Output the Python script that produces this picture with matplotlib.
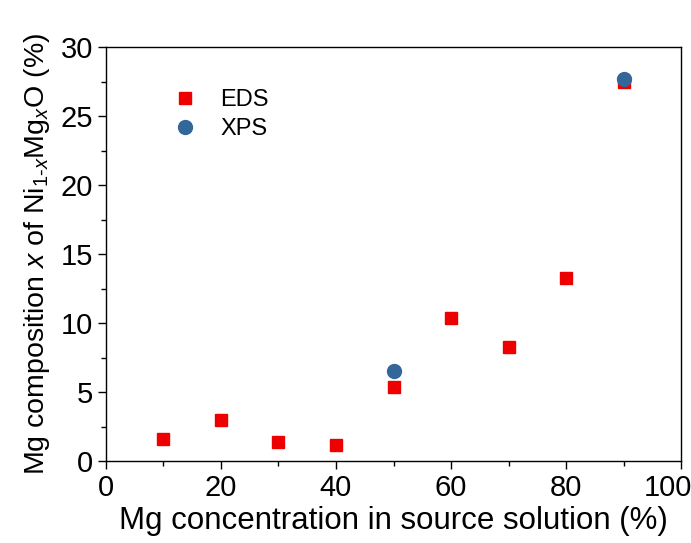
import matplotlib
matplotlib.use("Agg")
import matplotlib.pyplot as plt
import matplotlib.transforms as mtransforms
from matplotlib.ticker import MultipleLocator

plt.rcParams["font.family"] = ["Liberation Sans", "DejaVu Sans"]
plt.rcParams["mathtext.fontset"] = "custom"
plt.rcParams["mathtext.rm"] = "Liberation Sans"
plt.rcParams["mathtext.it"] = "Liberation Sans:italic"

# data
eds_x = [10, 20, 30, 40, 50, 60, 70, 80, 90]
eds_y = [1.6, 3.0, 1.35, 1.15, 5.35, 10.35, 8.3, 13.3, 27.45]
xps_x = [50, 90]
xps_y = [6.5, 27.7]
x_ticks = [0, 20, 40, 60, 80, 100]

fig = plt.figure(figsize=(6.91, 5.43), dpi=100)
ax = fig.add_axes([0.153, 0.151, 0.833, 0.762])

ax.plot(eds_x, eds_y, "s", color="#ee0000", markersize=9, label="EDS", linestyle="none")
ax.plot(xps_x, xps_y, "o", color="#336699", markersize=10, label="XPS", linestyle="none")

ax.set_xlim(0, 100)
ax.set_ylim(0, 30)
ax.set_xticks(x_ticks)
ax.xaxis.set_minor_locator(MultipleLocator(10))
ax.yaxis.set_major_locator(MultipleLocator(5))
ax.yaxis.set_minor_locator(MultipleLocator(2.5))
ax.tick_params(which="both", direction="out", labelsize=21, top=False, right=False)
ax.tick_params(which="major", length=6, width=1, pad=3)
ax.tick_params(which="minor", length=3.5, width=1)
for s in ax.spines.values():
    s.set_linewidth(1)

# nudge "100" left so it stays inside the figure like in the original
last = ax.get_xticklabels()[-1]
last.set_transform(last.get_transform() + mtransforms.ScaledTranslation(-0.13, 0, fig.dpi_scale_trans))

ax.set_xlabel("Mg concentration in source solution (%)", fontsize=22.5, labelpad=3)
ax.set_ylabel(r"Mg composition $\mathit{x}$ of Ni$_{1\text{-}\mathit{x}}$Mg$_{\mathit{x}}$O (%)",
              fontsize=20.5, labelpad=6)

ax.legend(loc="upper left", bbox_to_anchor=(0.06, 0.95), frameon=False, fontsize=17,
          handletextpad=0.5, labelspacing=0.3)

fig.savefig("out.png", dpi=100)
